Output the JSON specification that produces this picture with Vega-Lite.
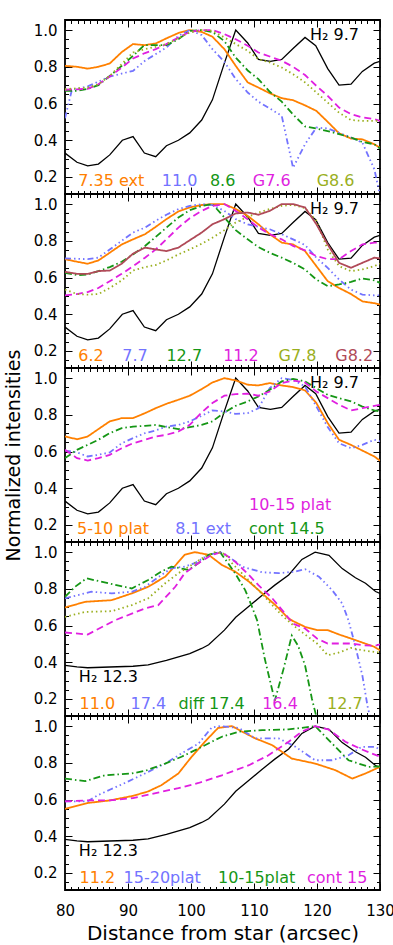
{
"$schema": "https://vega.github.io/schema/vega-lite/v6.json",
"padding": {"left": 3, "top": 18, "right": 2, "bottom": 2},
"spacing": 0,
"bounds": "flush",
"config": {
  "view": {"stroke": "black", "strokeWidth": 1.8},
  "axis": {"labelFont": "DejaVu Sans", "labelFontSize": 15, "labelColor": "black", "titleFont": "DejaVu Sans", "titleFontSize": 18, "titleFontWeight": "normal", "titleColor": "black", "tickColor": "black", "tickWidth": 1, "domain": false, "grid": false, "labelFlush": false},
  "text": {"font": "DejaVu Sans", "fontSize": 16}
},
"resolve": {"scale": {"color": "independent", "strokeDash": "independent"}},
"datasets": {
"h97": [
{"d":80,"I":0.33},{"d":81.9,"I":0.28},{"d":83.6,"I":0.26},{"d":85.3,"I":0.27},{"d":87.1,"I":0.32},{"d":89.1,"I":0.40},{"d":90.8,"I":0.42},{"d":92.6,"I":0.33},{"d":94.4,"I":0.31},{"d":96.1,"I":0.37},{"d":98,"I":0.40},{"d":99.8,"I":0.44},{"d":101.7,"I":0.51},{"d":103.4,"I":0.62},{"d":105.3,"I":0.82},{"d":107.1,"I":1.0},{"d":109,"I":0.93},{"d":110.7,"I":0.84},{"d":112.6,"I":0.83},{"d":114.4,"I":0.84},{"d":116.2,"I":0.90},{"d":118.1,"I":0.96},{"d":119.8,"I":0.915},{"d":121.7,"I":0.79},{"d":123.5,"I":0.70},{"d":125.4,"I":0.705},{"d":127.2,"I":0.775},{"d":129.1,"I":0.82},{"d":130,"I":0.83}
],
"h123": [
{"d":80,"I":0.383},{"d":81.9,"I":0.375},{"d":83.6,"I":0.37},{"d":87.1,"I":0.374},{"d":90.8,"I":0.378},{"d":93.2,"I":0.385},{"d":96.1,"I":0.41},{"d":99.8,"I":0.447},{"d":101.7,"I":0.475},{"d":102.8,"I":0.495},{"d":105.3,"I":0.575},{"d":107.1,"I":0.645},{"d":109.2,"I":0.705},{"d":111.3,"I":0.765},{"d":113.3,"I":0.82},{"d":115.5,"I":0.875},{"d":117.6,"I":0.96},{"d":119.7,"I":1.0},{"d":121.9,"I":0.982},{"d":124,"I":0.91},{"d":126.1,"I":0.86},{"d":127.7,"I":0.83},{"d":129.3,"I":0.785},{"d":130,"I":0.775}
],
"p1": [
{"series":"7.35 ext","d":80,"I":0.805},{"series":"7.35 ext","d":81.9,"I":0.80},{"series":"7.35 ext","d":83.6,"I":0.79},{"series":"7.35 ext","d":85.3,"I":0.80},{"series":"7.35 ext","d":87.1,"I":0.818},{"series":"7.35 ext","d":89,"I":0.88},{"series":"7.35 ext","d":90.8,"I":0.924},{"series":"7.35 ext","d":92.6,"I":0.918},{"series":"7.35 ext","d":94.4,"I":0.927},{"series":"7.35 ext","d":96.1,"I":0.955},{"series":"7.35 ext","d":98,"I":0.984},{"series":"7.35 ext","d":99.8,"I":1.0},{"series":"7.35 ext","d":101.7,"I":0.99},{"series":"7.35 ext","d":103.4,"I":0.964},{"series":"7.35 ext","d":105.3,"I":0.896},{"series":"7.35 ext","d":107.1,"I":0.805},{"series":"7.35 ext","d":109,"I":0.715},{"series":"7.35 ext","d":110.7,"I":0.687},{"series":"7.35 ext","d":112.5,"I":0.656},{"series":"7.35 ext","d":114.4,"I":0.629},{"series":"7.35 ext","d":116.2,"I":0.618},{"series":"7.35 ext","d":118.1,"I":0.59},{"series":"7.35 ext","d":119.9,"I":0.56},{"series":"7.35 ext","d":121.7,"I":0.50},{"series":"7.35 ext","d":123.5,"I":0.438},{"series":"7.35 ext","d":125.4,"I":0.409},{"series":"7.35 ext","d":127.2,"I":0.405},{"series":"7.35 ext","d":129.1,"I":0.378},{"series":"7.35 ext","d":130,"I":0.36},
{"series":"11.0","d":80,"I":0.52},{"series":"11.0","d":81.1,"I":0.675},{"series":"11.0","d":83.6,"I":0.693},{"series":"11.0","d":87.1,"I":0.747},{"series":"11.0","d":90.8,"I":0.778},{"series":"11.0","d":92.7,"I":0.833},{"series":"11.0","d":96.1,"I":0.905},{"series":"11.0","d":98,"I":0.969},{"series":"11.0","d":99.8,"I":1.0},{"series":"11.0","d":101.7,"I":0.973},{"series":"11.0","d":103.4,"I":0.896},{"series":"11.0","d":105.3,"I":0.827},{"series":"11.0","d":107.1,"I":0.733},{"series":"11.0","d":109,"I":0.66},{"series":"11.0","d":110.7,"I":0.61},{"series":"11.0","d":112.5,"I":0.573},{"series":"11.0","d":114.4,"I":0.533},{"series":"11.0","d":116.2,"I":0.25},{"series":"11.0","d":118.1,"I":0.378},{"series":"11.0","d":119.9,"I":0.469},{"series":"11.0","d":121.7,"I":0.464},{"series":"11.0","d":123.5,"I":0.44},{"series":"11.0","d":125.4,"I":0.415},{"series":"11.0","d":127.2,"I":0.387},{"series":"11.0","d":129.1,"I":0.242},{"series":"11.0","d":130,"I":0.10},
{"series":"8.6","d":80,"I":0.669},{"series":"8.6","d":81.9,"I":0.669},{"series":"8.6","d":83.6,"I":0.68},{"series":"8.6","d":85.3,"I":0.70},{"series":"8.6","d":87.1,"I":0.75},{"series":"8.6","d":89,"I":0.805},{"series":"8.6","d":90.8,"I":0.86},{"series":"8.6","d":92.6,"I":0.918},{"series":"8.6","d":94.4,"I":0.918},{"series":"8.6","d":96.1,"I":0.918},{"series":"8.6","d":98,"I":0.95},{"series":"8.6","d":99.8,"I":0.996},{"series":"8.6","d":101.7,"I":1.0},{"series":"8.6","d":103.4,"I":0.99},{"series":"8.6","d":105.3,"I":0.94},{"series":"8.6","d":107.1,"I":0.85},{"series":"8.6","d":109,"I":0.78},{"series":"8.6","d":110.7,"I":0.733},{"series":"8.6","d":112.5,"I":0.664},{"series":"8.6","d":114.4,"I":0.61},{"series":"8.6","d":116.2,"I":0.54},{"series":"8.6","d":118.1,"I":0.475},{"series":"8.6","d":119.9,"I":0.464},{"series":"8.6","d":121.7,"I":0.45},{"series":"8.6","d":123.5,"I":0.433},{"series":"8.6","d":125.4,"I":0.415},{"series":"8.6","d":127.2,"I":0.39},{"series":"8.6","d":129.1,"I":0.378},{"series":"8.6","d":130,"I":0.355},
{"series":"G7.6","d":80,"I":0.675},{"series":"G7.6","d":83.6,"I":0.68},{"series":"G7.6","d":85.3,"I":0.705},{"series":"G7.6","d":87.1,"I":0.747},{"series":"G7.6","d":89,"I":0.796},{"series":"G7.6","d":90.8,"I":0.845},{"series":"G7.6","d":92.7,"I":0.875},{"series":"G7.6","d":94.4,"I":0.896},{"series":"G7.6","d":96.1,"I":0.924},{"series":"G7.6","d":98,"I":0.96},{"series":"G7.6","d":99.8,"I":0.99},{"series":"G7.6","d":101.7,"I":1.0},{"series":"G7.6","d":103.4,"I":1.0},{"series":"G7.6","d":105.3,"I":0.978},{"series":"G7.6","d":107.1,"I":0.95},{"series":"G7.6","d":109,"I":0.915},{"series":"G7.6","d":110.7,"I":0.878},{"series":"G7.6","d":112.5,"I":0.856},{"series":"G7.6","d":114.4,"I":0.833},{"series":"G7.6","d":116.2,"I":0.80},{"series":"G7.6","d":118.1,"I":0.755},{"series":"G7.6","d":119.9,"I":0.696},{"series":"G7.6","d":121.7,"I":0.642},{"series":"G7.6","d":123.5,"I":0.578},{"series":"G7.6","d":125.4,"I":0.542},{"series":"G7.6","d":127.2,"I":0.524},{"series":"G7.6","d":129.1,"I":0.515},{"series":"G7.6","d":130,"I":0.505},
{"series":"G8.6","d":80,"I":0.678},{"series":"G8.6","d":83.6,"I":0.687},{"series":"G8.6","d":85.3,"I":0.705},{"series":"G8.6","d":87.1,"I":0.75},{"series":"G8.6","d":89,"I":0.815},{"series":"G8.6","d":90.8,"I":0.878},{"series":"G8.6","d":92.7,"I":0.896},{"series":"G8.6","d":94.4,"I":0.909},{"series":"G8.6","d":96.1,"I":0.924},{"series":"G8.6","d":98,"I":0.955},{"series":"G8.6","d":99.8,"I":0.987},{"series":"G8.6","d":101.7,"I":1.0},{"series":"G8.6","d":103.4,"I":0.996},{"series":"G8.6","d":105.3,"I":0.96},{"series":"G8.6","d":107.1,"I":0.924},{"series":"G8.6","d":109,"I":0.887},{"series":"G8.6","d":110.7,"I":0.842},{"series":"G8.6","d":112.5,"I":0.824},{"series":"G8.6","d":114.4,"I":0.796},{"series":"G8.6","d":116.2,"I":0.76},{"series":"G8.6","d":118.1,"I":0.715},{"series":"G8.6","d":119.9,"I":0.66},{"series":"G8.6","d":121.7,"I":0.605},{"series":"G8.6","d":123.5,"I":0.55},{"series":"G8.6","d":125.4,"I":0.51},{"series":"G8.6","d":127.2,"I":0.505},{"series":"G8.6","d":129.1,"I":0.505},{"series":"G8.6","d":130,"I":0.505}
],
"p2": [
{"series":"6.2","d":80,"I":0.70},{"series":"6.2","d":81.9,"I":0.686},{"series":"6.2","d":83.6,"I":0.675},{"series":"6.2","d":85.3,"I":0.693},{"series":"6.2","d":87.1,"I":0.735},{"series":"6.2","d":89,"I":0.78},{"series":"6.2","d":90.8,"I":0.808},{"series":"6.2","d":92.7,"I":0.836},{"series":"6.2","d":94.4,"I":0.876},{"series":"6.2","d":96.1,"I":0.918},{"series":"6.2","d":98,"I":0.96},{"series":"6.2","d":99.8,"I":0.982},{"series":"6.2","d":101.7,"I":0.995},{"series":"6.2","d":103.4,"I":1.0},{"series":"6.2","d":105.3,"I":1.0},{"series":"6.2","d":107.1,"I":0.973},{"series":"6.2","d":109,"I":0.936},{"series":"6.2","d":110.7,"I":0.89},{"series":"6.2","d":112.5,"I":0.836},{"series":"6.2","d":114.4,"I":0.79},{"series":"6.2","d":116.2,"I":0.78},{"series":"6.2","d":118.1,"I":0.744},{"series":"6.2","d":119.9,"I":0.662},{"series":"6.2","d":121.7,"I":0.58},{"series":"6.2","d":123.5,"I":0.543},{"series":"6.2","d":125.4,"I":0.51},{"series":"6.2","d":127.2,"I":0.47},{"series":"6.2","d":129.1,"I":0.46},{"series":"6.2","d":130,"I":0.452},
{"series":"7.7","d":80,"I":0.704},{"series":"7.7","d":83.6,"I":0.70},{"series":"7.7","d":85.3,"I":0.708},{"series":"7.7","d":87.1,"I":0.753},{"series":"7.7","d":89,"I":0.80},{"series":"7.7","d":90.8,"I":0.845},{"series":"7.7","d":92.7,"I":0.872},{"series":"7.7","d":94.4,"I":0.909},{"series":"7.7","d":96.1,"I":0.942},{"series":"7.7","d":98,"I":0.973},{"series":"7.7","d":99.8,"I":0.99},{"series":"7.7","d":101.7,"I":1.0},{"series":"7.7","d":103.4,"I":0.995},{"series":"7.7","d":105.3,"I":0.963},{"series":"7.7","d":107.1,"I":0.918},{"series":"7.7","d":109,"I":0.89},{"series":"7.7","d":110.7,"I":0.876},{"series":"7.7","d":112.5,"I":0.863},{"series":"7.7","d":114.4,"I":0.836},{"series":"7.7","d":116.2,"I":0.808},{"series":"7.7","d":118.1,"I":0.777},{"series":"7.7","d":119.9,"I":0.708},{"series":"7.7","d":121.7,"I":0.653},{"series":"7.7","d":123.5,"I":0.589},{"series":"7.7","d":125.4,"I":0.534},{"series":"7.7","d":127.2,"I":0.507},{"series":"7.7","d":129.1,"I":0.503},{"series":"7.7","d":130,"I":0.503},
{"series":"12.7","d":80,"I":0.626},{"series":"12.7","d":81.9,"I":0.613},{"series":"12.7","d":83.6,"I":0.616},{"series":"12.7","d":85.3,"I":0.635},{"series":"12.7","d":87.1,"I":0.657},{"series":"12.7","d":89,"I":0.686},{"series":"12.7","d":90.8,"I":0.726},{"series":"12.7","d":92.7,"I":0.772},{"series":"12.7","d":94.4,"I":0.821},{"series":"12.7","d":96.1,"I":0.872},{"series":"12.7","d":98,"I":0.927},{"series":"12.7","d":99.8,"I":0.967},{"series":"12.7","d":101.7,"I":0.99},{"series":"12.7","d":103.4,"I":1.0},{"series":"12.7","d":105.3,"I":0.927},{"series":"12.7","d":107.1,"I":0.858},{"series":"12.7","d":109,"I":0.808},{"series":"12.7","d":110.7,"I":0.766},{"series":"12.7","d":112.5,"I":0.735},{"series":"12.7","d":114.4,"I":0.708},{"series":"12.7","d":116.2,"I":0.68},{"series":"12.7","d":118.1,"I":0.644},{"series":"12.7","d":119.9,"I":0.589},{"series":"12.7","d":121.7,"I":0.553},{"series":"12.7","d":123.5,"I":0.562},{"series":"12.7","d":125.4,"I":0.576},{"series":"12.7","d":127.2,"I":0.595},{"series":"12.7","d":129.1,"I":0.584},{"series":"12.7","d":130,"I":0.571},
{"series":"11.2","d":80,"I":0.503},{"series":"11.2","d":81.9,"I":0.51},{"series":"11.2","d":83.6,"I":0.521},{"series":"11.2","d":85.3,"I":0.543},{"series":"11.2","d":87.1,"I":0.58},{"series":"11.2","d":89,"I":0.62},{"series":"11.2","d":90.8,"I":0.662},{"series":"11.2","d":92.7,"I":0.708},{"series":"11.2","d":94.4,"I":0.753},{"series":"11.2","d":96.1,"I":0.808},{"series":"11.2","d":98,"I":0.872},{"series":"11.2","d":99.8,"I":0.923},{"series":"11.2","d":101.7,"I":0.963},{"series":"11.2","d":103.4,"I":0.99},{"series":"11.2","d":105.3,"I":1.0},{"series":"11.2","d":107.1,"I":0.963},{"series":"11.2","d":109,"I":0.918},{"series":"11.2","d":110.7,"I":0.872},{"series":"11.2","d":112.5,"I":0.836},{"series":"11.2","d":114.4,"I":0.808},{"series":"11.2","d":116.2,"I":0.772},{"series":"11.2","d":118.1,"I":0.748},{"series":"11.2","d":119.9,"I":0.717},{"series":"11.2","d":121.7,"I":0.70},{"series":"11.2","d":123.5,"I":0.70},{"series":"11.2","d":125.4,"I":0.744},{"series":"11.2","d":127.2,"I":0.78},{"series":"11.2","d":129.1,"I":0.79},{"series":"11.2","d":130,"I":0.79},
{"series":"G7.8","d":80,"I":0.534},{"series":"G7.8","d":81.9,"I":0.51},{"series":"G7.8","d":83.6,"I":0.507},{"series":"G7.8","d":85.3,"I":0.51},{"series":"G7.8","d":87.1,"I":0.543},{"series":"G7.8","d":89,"I":0.584},{"series":"G7.8","d":90.8,"I":0.638},{"series":"G7.8","d":92.7,"I":0.657},{"series":"G7.8","d":94.4,"I":0.668},{"series":"G7.8","d":96.1,"I":0.693},{"series":"G7.8","d":98,"I":0.726},{"series":"G7.8","d":99.8,"I":0.753},{"series":"G7.8","d":101.7,"I":0.784},{"series":"G7.8","d":103.4,"I":0.817},{"series":"G7.8","d":105.3,"I":0.858},{"series":"G7.8","d":107.1,"I":0.90},{"series":"G7.8","d":109,"I":0.93},{"series":"G7.8","d":110.7,"I":0.954},{"series":"G7.8","d":112.5,"I":0.973},{"series":"G7.8","d":114.4,"I":0.99},{"series":"G7.8","d":116.2,"I":0.996},{"series":"G7.8","d":118.1,"I":0.978},{"series":"G7.8","d":119.9,"I":0.909},{"series":"G7.8","d":121.7,"I":0.753},{"series":"G7.8","d":123.5,"I":0.662},{"series":"G7.8","d":125.4,"I":0.635},{"series":"G7.8","d":127.2,"I":0.644},{"series":"G7.8","d":129.1,"I":0.662},{"series":"G7.8","d":130,"I":0.675},
{"series":"G8.2","d":80,"I":0.631},{"series":"G8.2","d":81.9,"I":0.62},{"series":"G8.2","d":83.6,"I":0.62},{"series":"G8.2","d":85.3,"I":0.635},{"series":"G8.2","d":87.1,"I":0.638},{"series":"G8.2","d":89,"I":0.675},{"series":"G8.2","d":90.8,"I":0.73},{"series":"G8.2","d":92.7,"I":0.763},{"series":"G8.2","d":94.4,"I":0.753},{"series":"G8.2","d":96.1,"I":0.744},{"series":"G8.2","d":98,"I":0.763},{"series":"G8.2","d":99.8,"I":0.803},{"series":"G8.2","d":101.7,"I":0.845},{"series":"G8.2","d":103.4,"I":0.89},{"series":"G8.2","d":105.3,"I":0.918},{"series":"G8.2","d":107.1,"I":0.949},{"series":"G8.2","d":109,"I":0.954},{"series":"G8.2","d":110.7,"I":0.942},{"series":"G8.2","d":112.5,"I":0.963},{"series":"G8.2","d":114.4,"I":1.0},{"series":"G8.2","d":116.2,"I":1.0},{"series":"G8.2","d":118.1,"I":0.982},{"series":"G8.2","d":119.9,"I":0.89},{"series":"G8.2","d":121.7,"I":0.78},{"series":"G8.2","d":123.5,"I":0.68},{"series":"G8.2","d":125.4,"I":0.653},{"series":"G8.2","d":127.2,"I":0.68},{"series":"G8.2","d":129.1,"I":0.708},{"series":"G8.2","d":130,"I":0.704}
],
"p3": [
{"series":"5-10 plat","d":80,"I":0.682},{"series":"5-10 plat","d":81.9,"I":0.667},{"series":"5-10 plat","d":83.6,"I":0.682},{"series":"5-10 plat","d":85.3,"I":0.722},{"series":"5-10 plat","d":87.1,"I":0.764},{"series":"5-10 plat","d":89,"I":0.782},{"series":"5-10 plat","d":90.8,"I":0.782},{"series":"5-10 plat","d":92.7,"I":0.809},{"series":"5-10 plat","d":94.4,"I":0.836},{"series":"5-10 plat","d":96.1,"I":0.86},{"series":"5-10 plat","d":98,"I":0.882},{"series":"5-10 plat","d":99.8,"I":0.904},{"series":"5-10 plat","d":101.7,"I":0.94},{"series":"5-10 plat","d":103.4,"I":0.976},{"series":"5-10 plat","d":105.3,"I":1.0},{"series":"5-10 plat","d":107.1,"I":0.987},{"series":"5-10 plat","d":109,"I":0.964},{"series":"5-10 plat","d":110.7,"I":0.96},{"series":"5-10 plat","d":112.5,"I":0.973},{"series":"5-10 plat","d":114.4,"I":0.96},{"series":"5-10 plat","d":116.2,"I":0.951},{"series":"5-10 plat","d":118.1,"I":0.933},{"series":"5-10 plat","d":119.9,"I":0.864},{"series":"5-10 plat","d":121.7,"I":0.755},{"series":"5-10 plat","d":123.5,"I":0.664},{"series":"5-10 plat","d":125.4,"I":0.636},{"series":"5-10 plat","d":127.2,"I":0.605},{"series":"5-10 plat","d":129.1,"I":0.573},{"series":"5-10 plat","d":130,"I":0.55},
{"series":"8.1 ext","d":80,"I":0.605},{"series":"8.1 ext","d":81.9,"I":0.595},{"series":"8.1 ext","d":83.6,"I":0.573},{"series":"8.1 ext","d":85.3,"I":0.582},{"series":"8.1 ext","d":87.1,"I":0.595},{"series":"8.1 ext","d":89,"I":0.645},{"series":"8.1 ext","d":90.8,"I":0.673},{"series":"8.1 ext","d":92.7,"I":0.70},{"series":"8.1 ext","d":94.4,"I":0.715},{"series":"8.1 ext","d":96.1,"I":0.736},{"series":"8.1 ext","d":98,"I":0.745},{"series":"8.1 ext","d":99.8,"I":0.764},{"series":"8.1 ext","d":101.7,"I":0.795},{"series":"8.1 ext","d":103.4,"I":0.824},{"series":"8.1 ext","d":105.3,"I":0.818},{"series":"8.1 ext","d":107.1,"I":0.805},{"series":"8.1 ext","d":109,"I":0.809},{"series":"8.1 ext","d":110.7,"I":0.836},{"series":"8.1 ext","d":112.5,"I":0.945},{"series":"8.1 ext","d":114.4,"I":1.0},{"series":"8.1 ext","d":116.2,"I":0.99},{"series":"8.1 ext","d":118.1,"I":0.955},{"series":"8.1 ext","d":119.9,"I":0.845},{"series":"8.1 ext","d":121.7,"I":0.733},{"series":"8.1 ext","d":123.5,"I":0.645},{"series":"8.1 ext","d":125.4,"I":0.618},{"series":"8.1 ext","d":127.2,"I":0.636},{"series":"8.1 ext","d":129.1,"I":0.664},{"series":"8.1 ext","d":130,"I":0.655},
{"series":"cont 14.5","d":80,"I":0.564},{"series":"cont 14.5","d":81.9,"I":0.609},{"series":"cont 14.5","d":83.6,"I":0.636},{"series":"cont 14.5","d":85.3,"I":0.664},{"series":"cont 14.5","d":87.1,"I":0.70},{"series":"cont 14.5","d":89,"I":0.727},{"series":"cont 14.5","d":90.8,"I":0.736},{"series":"cont 14.5","d":92.7,"I":0.74},{"series":"cont 14.5","d":94.4,"I":0.745},{"series":"cont 14.5","d":96.1,"I":0.733},{"series":"cont 14.5","d":98,"I":0.722},{"series":"cont 14.5","d":99.8,"I":0.733},{"series":"cont 14.5","d":101.7,"I":0.745},{"series":"cont 14.5","d":103.4,"I":0.764},{"series":"cont 14.5","d":105.3,"I":0.813},{"series":"cont 14.5","d":107.1,"I":0.849},{"series":"cont 14.5","d":109,"I":0.873},{"series":"cont 14.5","d":110.7,"I":0.90},{"series":"cont 14.5","d":112.5,"I":0.936},{"series":"cont 14.5","d":114.4,"I":0.982},{"series":"cont 14.5","d":116.2,"I":0.996},{"series":"cont 14.5","d":118.1,"I":0.982},{"series":"cont 14.5","d":119.9,"I":0.945},{"series":"cont 14.5","d":121.7,"I":0.909},{"series":"cont 14.5","d":123.5,"I":0.891},{"series":"cont 14.5","d":125.4,"I":0.873},{"series":"cont 14.5","d":127.2,"I":0.845},{"series":"cont 14.5","d":129.1,"I":0.824},{"series":"cont 14.5","d":130,"I":0.818},
{"series":"10-15 plat","d":80,"I":0.609},{"series":"10-15 plat","d":81.9,"I":0.564},{"series":"10-15 plat","d":83.6,"I":0.551},{"series":"10-15 plat","d":85.3,"I":0.564},{"series":"10-15 plat","d":87.1,"I":0.582},{"series":"10-15 plat","d":89,"I":0.618},{"series":"10-15 plat","d":90.8,"I":0.645},{"series":"10-15 plat","d":92.7,"I":0.664},{"series":"10-15 plat","d":94.4,"I":0.682},{"series":"10-15 plat","d":96.1,"I":0.691},{"series":"10-15 plat","d":98,"I":0.709},{"series":"10-15 plat","d":99.8,"I":0.745},{"series":"10-15 plat","d":101.7,"I":0.813},{"series":"10-15 plat","d":103.4,"I":0.864},{"series":"10-15 plat","d":105.3,"I":0.904},{"series":"10-15 plat","d":107.1,"I":0.913},{"series":"10-15 plat","d":109,"I":0.915},{"series":"10-15 plat","d":110.7,"I":0.904},{"series":"10-15 plat","d":112.5,"I":0.927},{"series":"10-15 plat","d":114.4,"I":0.973},{"series":"10-15 plat","d":116.2,"I":0.987},{"series":"10-15 plat","d":118.1,"I":0.976},{"series":"10-15 plat","d":119.9,"I":0.927},{"series":"10-15 plat","d":121.7,"I":0.891},{"series":"10-15 plat","d":123.5,"I":0.855},{"series":"10-15 plat","d":125.4,"I":0.824},{"series":"10-15 plat","d":127.2,"I":0.836},{"series":"10-15 plat","d":129.1,"I":0.849},{"series":"10-15 plat","d":130,"I":0.855}
],
"p4": [
{"series":"11.0","d":80,"I":0.698},{"series":"11.0","d":83.2,"I":0.729},{"series":"11.0","d":87.4,"I":0.738},{"series":"11.0","d":90.6,"I":0.775},{"series":"11.0","d":93.2,"I":0.811},{"series":"11.0","d":95.9,"I":0.866},{"series":"11.0","d":96.9,"I":0.903},{"series":"11.0","d":99,"I":0.985},{"series":"11.0","d":100.6,"I":1.0},{"series":"11.0","d":102.8,"I":0.985},{"series":"11.0","d":104.9,"I":0.93},{"series":"11.0","d":107,"I":0.894},{"series":"11.0","d":109.2,"I":0.839},{"series":"11.0","d":111.3,"I":0.775},{"series":"11.0","d":113.4,"I":0.711},{"series":"11.0","d":115.5,"I":0.638},{"series":"11.0","d":116.2,"I":0.624},{"series":"11.0","d":118.1,"I":0.593},{"series":"11.0","d":120,"I":0.575},{"series":"11.0","d":121.7,"I":0.575},{"series":"11.0","d":123.5,"I":0.551},{"series":"11.0","d":125.4,"I":0.529},{"series":"11.0","d":127.2,"I":0.507},{"series":"11.0","d":129.1,"I":0.484},{"series":"11.0","d":130,"I":0.465},
{"series":"17.4","d":80,"I":0.748},{"series":"17.4","d":82.1,"I":0.766},{"series":"17.4","d":84.2,"I":0.784},{"series":"17.4","d":87.4,"I":0.775},{"series":"17.4","d":90.6,"I":0.784},{"series":"17.4","d":92.7,"I":0.811},{"series":"17.4","d":95.3,"I":0.875},{"series":"17.4","d":96.9,"I":0.912},{"series":"17.4","d":99,"I":0.921},{"series":"17.4","d":100.6,"I":0.94},{"series":"17.4","d":102.8,"I":0.985},{"series":"17.4","d":104.6,"I":1.0},{"series":"17.4","d":106,"I":0.975},{"series":"17.4","d":108.1,"I":0.921},{"series":"17.4","d":111.3,"I":0.89},{"series":"17.4","d":113.9,"I":0.885},{"series":"17.4","d":116.6,"I":0.894},{"series":"17.4","d":118.1,"I":0.907},{"series":"17.4","d":120.3,"I":0.866},{"series":"17.4","d":122.4,"I":0.793},{"series":"17.4","d":124,"I":0.72},{"series":"17.4","d":125,"I":0.628},{"series":"17.4","d":126,"I":0.50},{"series":"17.4","d":127.2,"I":0.328},{"series":"17.4","d":128.1,"I":0.145},{"series":"17.4","d":128.9,"I":0.054},
{"series":"diff 17.4","d":80,"I":0.756},{"series":"diff 17.4","d":81.6,"I":0.811},{"series":"diff 17.4","d":83.4,"I":0.857},{"series":"diff 17.4","d":86.9,"I":0.83},{"series":"diff 17.4","d":90.6,"I":0.802},{"series":"diff 17.4","d":93.2,"I":0.848},{"series":"diff 17.4","d":95.3,"I":0.894},{"series":"diff 17.4","d":96.9,"I":0.921},{"series":"diff 17.4","d":99.6,"I":0.903},{"series":"diff 17.4","d":101.2,"I":0.94},{"series":"diff 17.4","d":102.8,"I":0.985},{"series":"diff 17.4","d":104.6,"I":1.0},{"series":"diff 17.4","d":105.7,"I":0.948},{"series":"diff 17.4","d":107,"I":0.885},{"series":"diff 17.4","d":108.6,"I":0.793},{"series":"diff 17.4","d":109.7,"I":0.701},{"series":"diff 17.4","d":110.5,"I":0.628},{"series":"diff 17.4","d":111.7,"I":0.42},{"series":"diff 17.4","d":113.3,"I":0.19},{"series":"diff 17.4","d":114.7,"I":0.365},{"series":"diff 17.4","d":116,"I":0.545},{"series":"diff 17.4","d":117,"I":0.49},{"series":"diff 17.4","d":118.1,"I":0.383},{"series":"diff 17.4","d":119.2,"I":0.2},{"series":"diff 17.4","d":120,"I":0.09},{"series":"diff 17.4","d":121,"I":0.0},
{"series":"16.4","d":80,"I":0.562},{"series":"16.4","d":83.6,"I":0.551},{"series":"16.4","d":87.9,"I":0.628},{"series":"16.4","d":92.7,"I":0.693},{"series":"16.4","d":94.8,"I":0.711},{"series":"16.4","d":97.5,"I":0.811},{"series":"16.4","d":99,"I":0.885},{"series":"16.4","d":101.2,"I":0.94},{"series":"16.4","d":103.3,"I":0.985},{"series":"16.4","d":104.9,"I":1.0},{"series":"16.4","d":107,"I":0.948},{"series":"16.4","d":109.2,"I":0.875},{"series":"16.4","d":110.7,"I":0.82},{"series":"16.4","d":112.9,"I":0.748},{"series":"16.4","d":114.7,"I":0.674},{"series":"16.4","d":116.2,"I":0.61},{"series":"16.4","d":118.1,"I":0.584},{"series":"16.4","d":120,"I":0.529},{"series":"16.4","d":121.7,"I":0.502},{"series":"16.4","d":123.5,"I":0.502},{"series":"16.4","d":125.4,"I":0.502},{"series":"16.4","d":127.2,"I":0.493},{"series":"16.4","d":129.1,"I":0.489},{"series":"16.4","d":130,"I":0.497},
{"series":"12.7","d":80,"I":0.647},{"series":"12.7","d":83.2,"I":0.674},{"series":"12.7","d":87.4,"I":0.678},{"series":"12.7","d":90.6,"I":0.711},{"series":"12.7","d":93.2,"I":0.748},{"series":"12.7","d":95.9,"I":0.83},{"series":"12.7","d":98,"I":0.885},{"series":"12.7","d":100.1,"I":0.93},{"series":"12.7","d":102.2,"I":0.976},{"series":"12.7","d":103.8,"I":1.0},{"series":"12.7","d":105.4,"I":0.99},{"series":"12.7","d":106.5,"I":0.94},{"series":"12.7","d":108.6,"I":0.866},{"series":"12.7","d":110.7,"I":0.793},{"series":"12.7","d":112.9,"I":0.711},{"series":"12.7","d":114.4,"I":0.657},{"series":"12.7","d":116.2,"I":0.602},{"series":"12.7","d":118.1,"I":0.551},{"series":"12.7","d":120,"I":0.502},{"series":"12.7","d":121.7,"I":0.438},{"series":"12.7","d":123.5,"I":0.453},{"series":"12.7","d":125.4,"I":0.478},{"series":"12.7","d":127.2,"I":0.465},{"series":"12.7","d":129.1,"I":0.456},{"series":"12.7","d":130,"I":0.453}
],
"p5": [
{"series":"11.2","d":80,"I":0.549},{"series":"11.2","d":83.6,"I":0.581},{"series":"11.2","d":87.1,"I":0.595},{"series":"11.2","d":90.8,"I":0.62},{"series":"11.2","d":93.2,"I":0.644},{"series":"11.2","d":95.3,"I":0.678},{"series":"11.2","d":98,"I":0.742},{"series":"11.2","d":100.1,"I":0.833},{"series":"11.2","d":102.2,"I":0.915},{"series":"11.2","d":104.3,"I":0.99},{"series":"11.2","d":106.5,"I":1.0},{"series":"11.2","d":108.1,"I":0.97},{"series":"11.2","d":110.2,"I":0.933},{"series":"11.2","d":112.9,"I":0.896},{"series":"11.2","d":116,"I":0.823},{"series":"11.2","d":119.7,"I":0.796},{"series":"11.2","d":122.9,"I":0.76},{"series":"11.2","d":125.6,"I":0.714},{"series":"11.2","d":127.7,"I":0.742},{"series":"11.2","d":130,"I":0.778},
{"series":"15-20plat","d":80,"I":0.59},{"series":"15-20plat","d":83.6,"I":0.59},{"series":"15-20plat","d":85.3,"I":0.625},{"series":"15-20plat","d":87.1,"I":0.653},{"series":"15-20plat","d":89.5,"I":0.69},{"series":"15-20plat","d":92.7,"I":0.742},{"series":"15-20plat","d":95.9,"I":0.796},{"series":"15-20plat","d":98.5,"I":0.851},{"series":"15-20plat","d":101.2,"I":0.905},{"series":"15-20plat","d":103.3,"I":0.993},{"series":"15-20plat","d":104.6,"I":1.0},{"series":"15-20plat","d":107.6,"I":0.99},{"series":"15-20plat","d":110.2,"I":0.933},{"series":"15-20plat","d":113.9,"I":0.933},{"series":"15-20plat","d":116.6,"I":0.887},{"series":"15-20plat","d":119.7,"I":0.814},{"series":"15-20plat","d":122.4,"I":0.814},{"series":"15-20plat","d":125,"I":0.841},{"series":"15-20plat","d":127.1,"I":0.887},{"series":"15-20plat","d":129.3,"I":0.887},{"series":"15-20plat","d":130,"I":0.869},
{"series":"10-15plat","d":80,"I":0.714},{"series":"10-15plat","d":83.2,"I":0.70},{"series":"10-15plat","d":86.3,"I":0.732},{"series":"10-15plat","d":90.6,"I":0.742},{"series":"10-15plat","d":92.7,"I":0.756},{"series":"10-15plat","d":95.9,"I":0.796},{"series":"10-15plat","d":98.5,"I":0.833},{"series":"10-15plat","d":101.2,"I":0.878},{"series":"10-15plat","d":103.3,"I":0.915},{"series":"10-15plat","d":104.9,"I":0.942},{"series":"10-15plat","d":107.6,"I":0.97},{"series":"10-15plat","d":111.3,"I":0.978},{"series":"10-15plat","d":115.5,"I":0.982},{"series":"10-15plat","d":118.2,"I":0.993},{"series":"10-15plat","d":119.7,"I":1.0},{"series":"10-15plat","d":122.4,"I":0.905},{"series":"10-15plat","d":125,"I":0.814},{"series":"10-15plat","d":128.2,"I":0.778},{"series":"10-15plat","d":130,"I":0.78},
{"series":"cont 15","d":80,"I":0.59},{"series":"cont 15","d":83.6,"I":0.595},{"series":"cont 15","d":87.1,"I":0.595},{"series":"cont 15","d":90.8,"I":0.608},{"series":"cont 15","d":94.4,"I":0.635},{"series":"cont 15","d":98,"I":0.662},{"series":"cont 15","d":101.2,"I":0.69},{"series":"cont 15","d":104.9,"I":0.732},{"series":"cont 15","d":109.2,"I":0.787},{"series":"cont 15","d":112.3,"I":0.841},{"series":"cont 15","d":115.5,"I":0.915},{"series":"cont 15","d":117.6,"I":0.97},{"series":"cont 15","d":119.7,"I":1.0},{"series":"cont 15","d":121.8,"I":0.982},{"series":"cont 15","d":124.5,"I":0.915},{"series":"cont 15","d":127.1,"I":0.873},{"series":"cont 15","d":130,"I":0.833}
],
"labels": [
{"panel":1,"series":"7.35 ext","d":82.1,"I":0.178},{"panel":1,"series":"11.0","d":95.35,"I":0.178},{"panel":1,"series":"8.6","d":103.0,"I":0.178},{"panel":1,"series":"G7.6","d":109.8,"I":0.178},{"panel":1,"series":"G8.6","d":119.95,"I":0.178},
{"panel":2,"series":"6.2","d":82.1,"I":0.175},{"panel":2,"series":"7.7","d":89.1,"I":0.175},{"panel":2,"series":"12.7","d":96.1,"I":0.175},{"panel":2,"series":"11.2","d":105.1,"I":0.175},{"panel":2,"series":"G7.8","d":113.9,"I":0.175},{"panel":2,"series":"G8.2","d":122.9,"I":0.175},
{"panel":3,"series":"5-10 plat","d":81.9,"I":0.18},{"panel":3,"series":"8.1 ext","d":97.5,"I":0.18},{"panel":3,"series":"cont 14.5","d":109.2,"I":0.18},{"panel":3,"series":"10-15 plat","d":109.2,"I":0.31},
{"panel":4,"series":"11.0","d":82.3,"I":0.173},{"panel":4,"series":"17.4","d":90.4,"I":0.173},{"panel":4,"series":"diff 17.4","d":98.0,"I":0.173},{"panel":4,"series":"16.4","d":111.3,"I":0.173},{"panel":4,"series":"12.7","d":121.6,"I":0.173},
{"panel":5,"series":"11.2","d":82.3,"I":0.172},{"panel":5,"series":"15-20plat","d":89.3,"I":0.172},{"panel":5,"series":"10-15plat","d":104.3,"I":0.172},{"panel":5,"series":"cont 15","d":118.4,"I":0.172}
],
"h2labels": [
{"panel":1,"label":"H₂ 9.7","d":118.9,"I":0.975},{"panel":2,"label":"H₂ 9.7","d":118.9,"I":0.973},{"panel":3,"label":"H₂ 9.7","d":118.9,"I":0.972},{"panel":4,"label":"H₂ 12.3","d":82.2,"I":0.32},{"panel":5,"label":"H₂ 12.3","d":82.2,"I":0.322}
]
},
"vconcat": [
{"width":315,"height":174,"resolve":{"axis":{"x":"independent","y":"independent"}},
 "layer":[
  {"data":{"name":"h97"},"mark":{"type":"line","color":"black","strokeWidth":1.3,"clip":true},
   "encoding":{"x":{"field":"d","type":"quantitative","scale":{"domain":[80,130],"nice":false,"zero":false},"axis":{"orient":"bottom","values":[80,90,100,110,120,130],"tickSize":-7,"labels":false,"title":null}},
   "y":{"field":"I","type":"quantitative","scale":{"domain":[0.107,1.055],"nice":false,"zero":false},"axis":{"orient":"left","values":[0.2,0.4,0.6,0.8,1.0],"tickSize":-7,"labelPadding":15,"format":".1f","title":null}}}},
  {"data":{"name":"p1"},"mark":{"type":"line","strokeWidth":1.8,"clip":true},
   "encoding":{"x":{"field":"d","type":"quantitative","scale":{"domain":[80,130],"nice":false,"zero":false},"axis":{"orient":"top","values":[80,90,100,110,120,130],"tickSize":-7,"labels":false,"title":null}},
   "y":{"field":"I","type":"quantitative","scale":{"domain":[0.107,1.055],"nice":false,"zero":false},"axis":{"orient":"right","values":[0.2,0.4,0.6,0.8,1.0],"tickSize":-7,"labels":false,"title":null}},
   "color":{"field":"series","type":"nominal","scale":{"domain":["7.35 ext","11.0","8.6","G7.6","G8.6"],"range":["#FF8000","#7373FF","#159615","#E01FE0","#9AAF1E"]},"legend":null},
   "strokeDash":{"field":"series","type":"nominal","scale":{"domain":["7.35 ext","11.0","8.6","G7.6","G8.6"],"range":[[1,0],[6,3,1.5,3,1.5,3,1.5,3],[7,3,1.5,3],[7,4],[1.5,3]]},"legend":null}}},
  {"data":{"name":"labels"},"transform":[{"filter":"datum.panel == 1"}],"mark":{"type":"text","align":"left","baseline":"middle","font":"DejaVu Sans","fontSize":16},
   "encoding":{"x":{"field":"d","type":"quantitative","scale":{"domain":[80,130],"nice":false,"zero":false},"axis":{"orient":"bottom","values":[81,82,83,84,85,86,87,88,89,91,92,93,94,95,96,97,98,99,101,102,103,104,105,106,107,108,109,111,112,113,114,115,116,117,118,119,121,122,123,124,125,126,127,128,129],"tickSize":-3.5,"labels":false,"title":null}},
   "y":{"field":"I","type":"quantitative","scale":{"domain":[0.107,1.055],"nice":false,"zero":false},"axis":{"orient":"left","values":[0.15,0.25,0.3,0.35,0.45,0.5,0.55,0.65,0.7,0.75,0.85,0.9,0.95],"tickSize":-3.5,"labels":false,"title":null}},
   "text":{"field":"series"},
   "color":{"field":"series","type":"nominal","scale":{"domain":["7.35 ext","11.0","8.6","G7.6","G8.6"],"range":["#FF8000","#7373FF","#159615","#E01FE0","#9AAF1E"]},"legend":null}}},
  {"data":{"name":"h2labels"},"transform":[{"filter":"datum.panel == 1"}],"mark":{"type":"text","align":"left","baseline":"middle","font":"DejaVu Sans","fontSize":16,"color":"black"},
   "encoding":{"x":{"field":"d","type":"quantitative","scale":{"domain":[80,130],"nice":false,"zero":false},"axis":{"orient":"top","values":[81,82,83,84,85,86,87,88,89,91,92,93,94,95,96,97,98,99,101,102,103,104,105,106,107,108,109,111,112,113,114,115,116,117,118,119,121,122,123,124,125,126,127,128,129],"tickSize":-3.5,"labels":false,"title":null}},
   "y":{"field":"I","type":"quantitative","scale":{"domain":[0.107,1.055],"nice":false,"zero":false},"axis":{"orient":"right","values":[0.15,0.25,0.3,0.35,0.45,0.5,0.55,0.65,0.7,0.75,0.85,0.9,0.95],"tickSize":-3.5,"labels":false,"title":null}},
   "text":{"field":"label"}}}
 ]},
{"width":315,"height":174,"resolve":{"axis":{"x":"independent","y":"independent"}},
 "layer":[
  {"data":{"name":"h97"},"mark":{"type":"line","color":"black","strokeWidth":1.3,"clip":true},
   "encoding":{"x":{"field":"d","type":"quantitative","scale":{"domain":[80,130],"nice":false,"zero":false},"axis":{"orient":"bottom","values":[80,90,100,110,120,130],"tickSize":-7,"labels":false,"title":null}},
   "y":{"field":"I","type":"quantitative","scale":{"domain":[0.107,1.055],"nice":false,"zero":false},"axis":{"orient":"left","values":[0.2,0.4,0.6,0.8,1.0],"tickSize":-7,"labelPadding":15,"format":".1f","title":null}}}},
  {"data":{"name":"p2"},"mark":{"type":"line","strokeWidth":1.8,"clip":true},
   "encoding":{"x":{"field":"d","type":"quantitative","scale":{"domain":[80,130],"nice":false,"zero":false},"axis":{"orient":"top","values":[80,90,100,110,120,130],"tickSize":-7,"labels":false,"title":null}},
   "y":{"field":"I","type":"quantitative","scale":{"domain":[0.107,1.055],"nice":false,"zero":false},"axis":{"orient":"right","values":[0.2,0.4,0.6,0.8,1.0],"tickSize":-7,"labels":false,"title":null}},
   "color":{"field":"series","type":"nominal","scale":{"domain":["6.2","7.7","12.7","11.2","G7.8","G8.2"],"range":["#FF8000","#7373FF","#159615","#E01FE0","#9AAF1E","#B04A58"]},"legend":null},
   "strokeDash":{"field":"series","type":"nominal","scale":{"domain":["6.2","7.7","12.7","11.2","G7.8","G8.2"],"range":[[1,0],[6,3,1.5,3,1.5,3,1.5,3],[7,3,1.5,3],[7,4],[1.5,3],[1,0]]},"legend":null}}},
  {"data":{"name":"labels"},"transform":[{"filter":"datum.panel == 2"}],"mark":{"type":"text","align":"left","baseline":"middle","font":"DejaVu Sans","fontSize":16},
   "encoding":{"x":{"field":"d","type":"quantitative","scale":{"domain":[80,130],"nice":false,"zero":false},"axis":{"orient":"bottom","values":[81,82,83,84,85,86,87,88,89,91,92,93,94,95,96,97,98,99,101,102,103,104,105,106,107,108,109,111,112,113,114,115,116,117,118,119,121,122,123,124,125,126,127,128,129],"tickSize":-3.5,"labels":false,"title":null}},
   "y":{"field":"I","type":"quantitative","scale":{"domain":[0.107,1.055],"nice":false,"zero":false},"axis":{"orient":"left","values":[0.15,0.25,0.3,0.35,0.45,0.5,0.55,0.65,0.7,0.75,0.85,0.9,0.95],"tickSize":-3.5,"labels":false,"title":null}},
   "text":{"field":"series"},
   "color":{"field":"series","type":"nominal","scale":{"domain":["6.2","7.7","12.7","11.2","G7.8","G8.2"],"range":["#FF8000","#7373FF","#159615","#E01FE0","#9AAF1E","#B04A58"]},"legend":null}}},
  {"data":{"name":"h2labels"},"transform":[{"filter":"datum.panel == 2"}],"mark":{"type":"text","align":"left","baseline":"middle","font":"DejaVu Sans","fontSize":16,"color":"black"},
   "encoding":{"x":{"field":"d","type":"quantitative","scale":{"domain":[80,130],"nice":false,"zero":false},"axis":{"orient":"top","values":[81,82,83,84,85,86,87,88,89,91,92,93,94,95,96,97,98,99,101,102,103,104,105,106,107,108,109,111,112,113,114,115,116,117,118,119,121,122,123,124,125,126,127,128,129],"tickSize":-3.5,"labels":false,"title":null}},
   "y":{"field":"I","type":"quantitative","scale":{"domain":[0.107,1.055],"nice":false,"zero":false},"axis":{"orient":"right","values":[0.15,0.25,0.3,0.35,0.45,0.5,0.55,0.65,0.7,0.75,0.85,0.9,0.95],"tickSize":-3.5,"labels":false,"title":null}},
   "text":{"field":"label"}}}
 ]},
{"width":315,"height":174,"resolve":{"axis":{"x":"independent","y":"independent"}},
 "layer":[
  {"data":{"name":"h97"},"mark":{"type":"line","color":"black","strokeWidth":1.3,"clip":true},
   "encoding":{"x":{"field":"d","type":"quantitative","scale":{"domain":[80,130],"nice":false,"zero":false},"axis":{"orient":"bottom","values":[80,90,100,110,120,130],"tickSize":-7,"labels":false,"title":null}},
   "y":{"field":"I","type":"quantitative","scale":{"domain":[0.107,1.055],"nice":false,"zero":false},"axis":{"orient":"left","values":[0.2,0.4,0.6,0.8,1.0],"tickSize":-7,"labelPadding":15,"format":".1f","title":"Normalized intensities","titleFontSize":19,"titlePadding":10}}}},
  {"data":{"name":"p3"},"mark":{"type":"line","strokeWidth":1.8,"clip":true},
   "encoding":{"x":{"field":"d","type":"quantitative","scale":{"domain":[80,130],"nice":false,"zero":false},"axis":{"orient":"top","values":[80,90,100,110,120,130],"tickSize":-7,"labels":false,"title":null}},
   "y":{"field":"I","type":"quantitative","scale":{"domain":[0.107,1.055],"nice":false,"zero":false},"axis":{"orient":"right","values":[0.2,0.4,0.6,0.8,1.0],"tickSize":-7,"labels":false,"title":null}},
   "color":{"field":"series","type":"nominal","scale":{"domain":["5-10 plat","8.1 ext","cont 14.5","10-15 plat"],"range":["#FF8000","#7373FF","#159615","#E01FE0"]},"legend":null},
   "strokeDash":{"field":"series","type":"nominal","scale":{"domain":["5-10 plat","8.1 ext","cont 14.5","10-15 plat"],"range":[[1,0],[6,3,1.5,3,1.5,3,1.5,3],[7,3,1.5,3],[7,4]]},"legend":null}}},
  {"data":{"name":"labels"},"transform":[{"filter":"datum.panel == 3"}],"mark":{"type":"text","align":"left","baseline":"middle","font":"DejaVu Sans","fontSize":16},
   "encoding":{"x":{"field":"d","type":"quantitative","scale":{"domain":[80,130],"nice":false,"zero":false},"axis":{"orient":"bottom","values":[81,82,83,84,85,86,87,88,89,91,92,93,94,95,96,97,98,99,101,102,103,104,105,106,107,108,109,111,112,113,114,115,116,117,118,119,121,122,123,124,125,126,127,128,129],"tickSize":-3.5,"labels":false,"title":null}},
   "y":{"field":"I","type":"quantitative","scale":{"domain":[0.107,1.055],"nice":false,"zero":false},"axis":{"orient":"left","values":[0.15,0.25,0.3,0.35,0.45,0.5,0.55,0.65,0.7,0.75,0.85,0.9,0.95],"tickSize":-3.5,"labels":false,"title":null}},
   "text":{"field":"series"},
   "color":{"field":"series","type":"nominal","scale":{"domain":["5-10 plat","8.1 ext","cont 14.5","10-15 plat"],"range":["#FF8000","#7373FF","#159615","#E01FE0"]},"legend":null}}},
  {"data":{"name":"h2labels"},"transform":[{"filter":"datum.panel == 3"}],"mark":{"type":"text","align":"left","baseline":"middle","font":"DejaVu Sans","fontSize":16,"color":"black"},
   "encoding":{"x":{"field":"d","type":"quantitative","scale":{"domain":[80,130],"nice":false,"zero":false},"axis":{"orient":"top","values":[81,82,83,84,85,86,87,88,89,91,92,93,94,95,96,97,98,99,101,102,103,104,105,106,107,108,109,111,112,113,114,115,116,117,118,119,121,122,123,124,125,126,127,128,129],"tickSize":-3.5,"labels":false,"title":null}},
   "y":{"field":"I","type":"quantitative","scale":{"domain":[0.107,1.055],"nice":false,"zero":false},"axis":{"orient":"right","values":[0.15,0.25,0.3,0.35,0.45,0.5,0.55,0.65,0.7,0.75,0.85,0.9,0.95],"tickSize":-3.5,"labels":false,"title":null}},
   "text":{"field":"label"}}}
 ]},
{"width":315,"height":174,"resolve":{"axis":{"x":"independent","y":"independent"}},
 "layer":[
  {"data":{"name":"h123"},"mark":{"type":"line","color":"black","strokeWidth":1.3,"clip":true},
   "encoding":{"x":{"field":"d","type":"quantitative","scale":{"domain":[80,130],"nice":false,"zero":false},"axis":{"orient":"bottom","values":[80,90,100,110,120,130],"tickSize":-7,"labels":false,"title":null}},
   "y":{"field":"I","type":"quantitative","scale":{"domain":[0.107,1.055],"nice":false,"zero":false},"axis":{"orient":"left","values":[0.2,0.4,0.6,0.8,1.0],"tickSize":-7,"labelPadding":15,"format":".1f","title":null}}}},
  {"data":{"name":"p4"},"mark":{"type":"line","strokeWidth":1.8,"clip":true},
   "encoding":{"x":{"field":"d","type":"quantitative","scale":{"domain":[80,130],"nice":false,"zero":false},"axis":{"orient":"top","values":[80,90,100,110,120,130],"tickSize":-7,"labels":false,"title":null}},
   "y":{"field":"I","type":"quantitative","scale":{"domain":[0.107,1.055],"nice":false,"zero":false},"axis":{"orient":"right","values":[0.2,0.4,0.6,0.8,1.0],"tickSize":-7,"labels":false,"title":null}},
   "color":{"field":"series","type":"nominal","scale":{"domain":["11.0","17.4","diff 17.4","16.4","12.7"],"range":["#FF8000","#7373FF","#159615","#E01FE0","#9AAF1E"]},"legend":null},
   "strokeDash":{"field":"series","type":"nominal","scale":{"domain":["11.0","17.4","diff 17.4","16.4","12.7"],"range":[[1,0],[6,3,1.5,3,1.5,3,1.5,3],[7,3,1.5,3],[7,4],[1.5,3]]},"legend":null}}},
  {"data":{"name":"labels"},"transform":[{"filter":"datum.panel == 4"}],"mark":{"type":"text","align":"left","baseline":"middle","font":"DejaVu Sans","fontSize":16},
   "encoding":{"x":{"field":"d","type":"quantitative","scale":{"domain":[80,130],"nice":false,"zero":false},"axis":{"orient":"bottom","values":[81,82,83,84,85,86,87,88,89,91,92,93,94,95,96,97,98,99,101,102,103,104,105,106,107,108,109,111,112,113,114,115,116,117,118,119,121,122,123,124,125,126,127,128,129],"tickSize":-3.5,"labels":false,"title":null}},
   "y":{"field":"I","type":"quantitative","scale":{"domain":[0.107,1.055],"nice":false,"zero":false},"axis":{"orient":"left","values":[0.15,0.25,0.3,0.35,0.45,0.5,0.55,0.65,0.7,0.75,0.85,0.9,0.95],"tickSize":-3.5,"labels":false,"title":null}},
   "text":{"field":"series"},
   "color":{"field":"series","type":"nominal","scale":{"domain":["11.0","17.4","diff 17.4","16.4","12.7"],"range":["#FF8000","#7373FF","#159615","#E01FE0","#9AAF1E"]},"legend":null}}},
  {"data":{"name":"h2labels"},"transform":[{"filter":"datum.panel == 4"}],"mark":{"type":"text","align":"left","baseline":"middle","font":"DejaVu Sans","fontSize":16,"color":"black"},
   "encoding":{"x":{"field":"d","type":"quantitative","scale":{"domain":[80,130],"nice":false,"zero":false},"axis":{"orient":"top","values":[81,82,83,84,85,86,87,88,89,91,92,93,94,95,96,97,98,99,101,102,103,104,105,106,107,108,109,111,112,113,114,115,116,117,118,119,121,122,123,124,125,126,127,128,129],"tickSize":-3.5,"labels":false,"title":null}},
   "y":{"field":"I","type":"quantitative","scale":{"domain":[0.107,1.055],"nice":false,"zero":false},"axis":{"orient":"right","values":[0.15,0.25,0.3,0.35,0.45,0.5,0.55,0.65,0.7,0.75,0.85,0.9,0.95],"tickSize":-3.5,"labels":false,"title":null}},
   "text":{"field":"label"}}}
 ]},
{"width":315,"height":174,"resolve":{"axis":{"x":"independent","y":"independent"}},
 "layer":[
  {"data":{"name":"h123"},"mark":{"type":"line","color":"black","strokeWidth":1.3,"clip":true},
   "encoding":{"x":{"field":"d","type":"quantitative","scale":{"domain":[80,130],"nice":false,"zero":false},"axis":{"orient":"bottom","values":[80,90,100,110,120,130],"tickSize":-7,"labelPadding":20,"format":"d","title":"Distance from star (arcsec)","titleFontSize":20,"titlePadding":5}},
   "y":{"field":"I","type":"quantitative","scale":{"domain":[0.107,1.055],"nice":false,"zero":false},"axis":{"orient":"left","values":[0.2,0.4,0.6,0.8,1.0],"tickSize":-7,"labelPadding":15,"format":".1f","title":null}}}},
  {"data":{"name":"p5"},"mark":{"type":"line","strokeWidth":1.8,"clip":true},
   "encoding":{"x":{"field":"d","type":"quantitative","scale":{"domain":[80,130],"nice":false,"zero":false},"axis":{"orient":"top","values":[80,90,100,110,120,130],"tickSize":-7,"labels":false,"title":null}},
   "y":{"field":"I","type":"quantitative","scale":{"domain":[0.107,1.055],"nice":false,"zero":false},"axis":{"orient":"right","values":[0.2,0.4,0.6,0.8,1.0],"tickSize":-7,"labels":false,"title":null}},
   "color":{"field":"series","type":"nominal","scale":{"domain":["11.2","15-20plat","10-15plat","cont 15"],"range":["#FF8000","#7373FF","#159615","#E01FE0"]},"legend":null},
   "strokeDash":{"field":"series","type":"nominal","scale":{"domain":["11.2","15-20plat","10-15plat","cont 15"],"range":[[1,0],[6,3,1.5,3,1.5,3,1.5,3],[7,3,1.5,3],[7,4]]},"legend":null}}},
  {"data":{"name":"labels"},"transform":[{"filter":"datum.panel == 5"}],"mark":{"type":"text","align":"left","baseline":"middle","font":"DejaVu Sans","fontSize":16},
   "encoding":{"x":{"field":"d","type":"quantitative","scale":{"domain":[80,130],"nice":false,"zero":false},"axis":{"orient":"bottom","values":[81,82,83,84,85,86,87,88,89,91,92,93,94,95,96,97,98,99,101,102,103,104,105,106,107,108,109,111,112,113,114,115,116,117,118,119,121,122,123,124,125,126,127,128,129],"tickSize":-3.5,"labels":false,"title":null}},
   "y":{"field":"I","type":"quantitative","scale":{"domain":[0.107,1.055],"nice":false,"zero":false},"axis":{"orient":"left","values":[0.15,0.25,0.3,0.35,0.45,0.5,0.55,0.65,0.7,0.75,0.85,0.9,0.95],"tickSize":-3.5,"labels":false,"title":null}},
   "text":{"field":"series"},
   "color":{"field":"series","type":"nominal","scale":{"domain":["11.2","15-20plat","10-15plat","cont 15"],"range":["#FF8000","#7373FF","#159615","#E01FE0"]},"legend":null}}},
  {"data":{"name":"h2labels"},"transform":[{"filter":"datum.panel == 5"}],"mark":{"type":"text","align":"left","baseline":"middle","font":"DejaVu Sans","fontSize":16,"color":"black"},
   "encoding":{"x":{"field":"d","type":"quantitative","scale":{"domain":[80,130],"nice":false,"zero":false},"axis":{"orient":"top","values":[81,82,83,84,85,86,87,88,89,91,92,93,94,95,96,97,98,99,101,102,103,104,105,106,107,108,109,111,112,113,114,115,116,117,118,119,121,122,123,124,125,126,127,128,129],"tickSize":-3.5,"labels":false,"title":null}},
   "y":{"field":"I","type":"quantitative","scale":{"domain":[0.107,1.055],"nice":false,"zero":false},"axis":{"orient":"right","values":[0.15,0.25,0.3,0.35,0.45,0.5,0.55,0.65,0.7,0.75,0.85,0.9,0.95],"tickSize":-3.5,"labels":false,"title":null}},
   "text":{"field":"label"}}}
 ]}
]
}
